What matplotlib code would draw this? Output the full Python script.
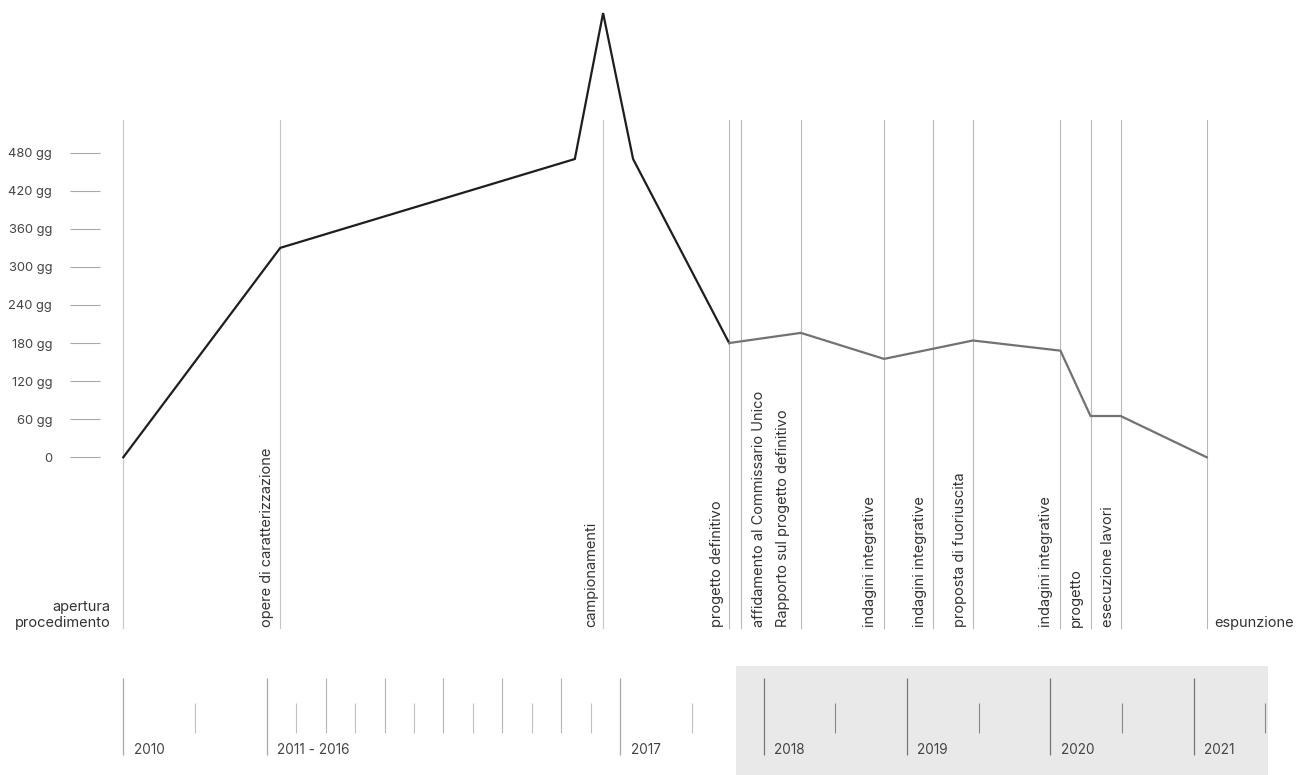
import matplotlib
matplotlib.use("Agg")
import matplotlib.pyplot as plt
import numpy as np

plt.rcParams['font.family'] = ['Inter', 'DejaVu Sans']

# events (decimal year) and their labels
event_labels = ["apertura\nprocedimento", "opere di caratterizzazione", "campionamenti",
                "progetto definitivo", "affidamento al Commissario Unico",
                "Rapporto sul progetto definitivo", "indagini integrative",
                "indagini integrative", "proposta di fuoriuscita", "indagini integrative",
                "progetto", "esecuzione lavori", "espunzione"]
event_dates = [2010.0, 2011.23, 2016.71, 2017.76, 2017.84, 2018.26, 2018.84,
               2019.18, 2019.46, 2020.07, 2020.28, 2020.49, 2021.09]
# label offset from its line (points); positive = label on the right side
label_offsets = [-9, -4.5, -3.8, -3.5, 8, -7.5, -5.2, -4.5, -4.3, -5.2, -5.8, -4.3, 5.5]

# duration line (days)
line_dates = [2010.0, 2011.23, 2016.23, 2016.71, 2017.09, 2017.76, 2018.26,
              2018.84, 2019.46, 2020.07, 2020.28, 2020.49, 2021.09]
line_days = [0, 330, 470, 700, 470, 180, 196, 155, 184, 168, 65, 65, 0]
split_idx = 5  # from "progetto definitivo" the line turns grey

y_ticks = [0, 60, 120, 180, 240, 300, 360, 420, 480]
y_tick_labels = ["0", "60 gg", "120 gg", "180 gg", "240 gg", "300 gg", "360 gg", "420 gg", "480 gg"]

# bottom timeline
year_major = [2010, 2011, 2017, 2018, 2019, 2020, 2021]
year_labels = ["2010", "2011 - 2016", "2017", "2018", "2019", "2020", "2021"]
year_tall = [2012, 2013, 2014, 2015, 2016]
half_years = [2010.5, 2011.5, 2012.5, 2013.5, 2014.5, 2015.5, 2016.5,
              2017.5, 2018.5, 2019.5, 2020.5, 2021.5]
shade_start, shade_end = 2017.81, 2021.52

# compressed time scale: 2011-2016 squeezed
year_knots = [2009, 2010, 2011, 2017, 2023]
pos_knots = [-1, 0, 1, 3.465, 9.465]


def fwd(x):
    return np.interp(x, year_knots, pos_knots)


def inv(u):
    return np.interp(u, pos_knots, year_knots)


W, H = 1308, 775
fig = plt.figure(figsize=(W / 100, H / 100), dpi=100)
left = 100 / W
ax = fig.add_axes([left, (H - 640) / H, 1 - left, 640 / H])
ax2 = fig.add_axes([left, 0, 1 - left, 115 / H], sharex=ax)

ax.set_xscale('function', functions=(fwd, inv))
origin, unit = 123.3, 143.4
ax.set_xlim(inv((100 - origin) / unit), inv((W - origin) / unit))
ax.set_ylim(-288, 720.6)

for s in ax.spines.values():
    s.set_visible(False)
ax.tick_params(axis='x', bottom=False, labelbottom=False)
ax.set_yticks(y_ticks)
ax.set_yticklabels(y_tick_labels)
ax.tick_params(axis='y', direction='out', length=21.5, width=0.8, pad=13,
               labelsize=9.3, labelcolor="#444444", color="#a8a8a8")

# event vertical lines
for i, d in enumerate(event_dates):
    ax.axvline(d, ymin=0.019, ymax=0.8125, color="#c6c6c6" if i < 3 else "#b8b8b8",
               lw=0.8, zorder=1)

# duration line
ax.plot(line_dates[:split_idx + 1], line_days[:split_idx + 1], color="#1e1e1e", lw=1.6,
        solid_joinstyle='miter', zorder=3)
ax.plot(line_dates[split_idx:], line_days[split_idx:], color="#727272", lw=1.6,
        solid_joinstyle='miter', zorder=3)

# event labels
xt = ax.get_xaxis_transform()
for i, (lab, d, off) in enumerate(zip(event_labels, event_dates, label_offsets)):
    if i == 0:
        ax.annotate(lab, xy=(d, 0.016), xycoords=xt, xytext=(off, 0), textcoords='offset points',
                    ha='right', va='bottom', multialignment='right', fontsize=10.5,
                    linespacing=1.12, color="#333333")
    elif i == len(event_labels) - 1:
        ax.annotate(lab, xy=(d, 0.016), xycoords=xt, xytext=(off, 0), textcoords='offset points',
                    ha='left', va='bottom', fontsize=10.5, color="#333333")
    else:
        ax.annotate(lab, xy=(d, 0.02), xycoords=xt, xytext=(off, 0), textcoords='offset points',
                    rotation=90, ha='left' if off > 0 else 'right', va='bottom',
                    fontsize=10.5, color="#333333")

# bottom timeline
ax2.set_ylim(0, 1)
ax2.axis('off')
ax2.axvspan(shade_start, shade_end, ymin=0, ymax=0.948, color="#e9e9e9", lw=0, zorder=0)


def tcol(x, light, dark):
    return dark if x >= shade_start else light


for y in year_major:
    ax2.vlines(y, 0.174, 0.843, color=tcol(y, "#a8a8a8", "#777777"), lw=0.9)
for y in year_tall:
    ax2.vlines(y, 0.365, 0.843, color="#b4b4b4", lw=0.8)
for y in half_years:
    ax2.vlines(y, 0.365, 0.626, color=tcol(y, "#c0c0c0", "#888888"), lw=0.8)
for y, lab in zip(year_major, year_labels):
    ax2.annotate(lab, xy=(y, 0.217), xytext=(7.5, 0), textcoords='offset points',
                 ha='left', va='center', fontsize=9.8, color="#444444")

fig.savefig("out.png", dpi=100)
